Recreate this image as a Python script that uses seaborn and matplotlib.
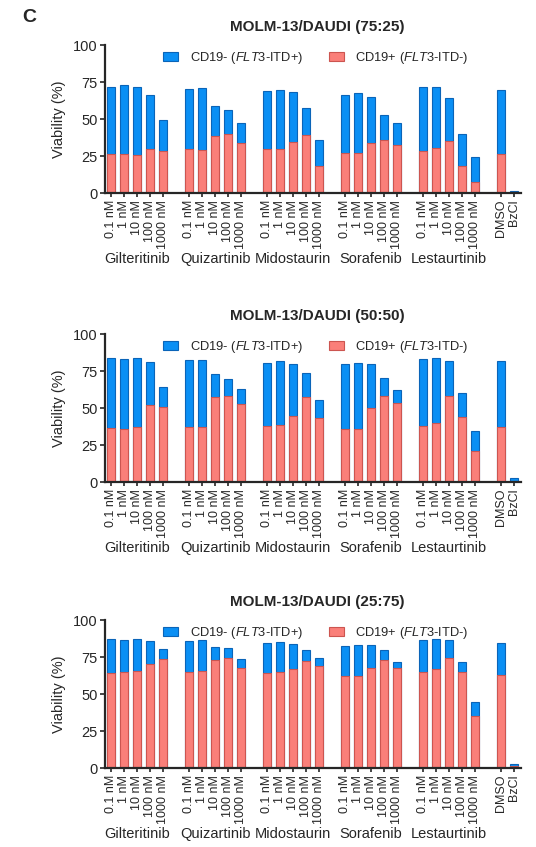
import numpy as np
import pandas as pd
import matplotlib
matplotlib.use("Agg")
import matplotlib.pyplot as plt
import seaborn as sns
from matplotlib.patches import Patch

sns.set_style("ticks")
plt.rcParams['font.family'] = ['Liberation Sans', 'DejaVu Sans']
plt.rcParams['mathtext.fontset'] = 'custom'
plt.rcParams['mathtext.it'] = 'Liberation Sans:italic'
plt.rcParams['mathtext.rm'] = 'Liberation Sans'

# ---------------- data ----------------
drugs = ["Gilteritinib", "Quizartinib", "Midostaurin", "Sorafenib", "Lestaurtinib"]
doses = ["0.1 nM", "1 nM", "10 nM", "100 nM", "1000 nM"]
controls = ["DMSO", "BzCl"]
titles = ["MOLM-13/DAUDI (75:25)", "MOLM-13/DAUDI (50:50)", "MOLM-13/DAUDI (25:75)"]

# total viability (top of blue bar) = CD19- + CD19+
total_75 = [71.9, 72.8, 71.9, 66.1, 49.2,
            70.6, 70.8, 58.7, 56.2, 47.4,
            68.8, 69.4, 68.1, 57.3, 35.5,
            66.3, 67.6, 64.7, 52.8, 47.0,
            71.7, 71.9, 64.0, 40.0, 24.3,
            69.9, 1.6]
cd19pos_75 = [26.1, 26.5, 25.6, 29.9, 28.3,
              29.4, 29.2, 38.7, 39.8, 33.5,
              29.4, 29.4, 34.4, 39.3, 18.2,
              26.7, 26.7, 33.7, 35.5, 32.1,
              28.3, 30.3, 34.8, 18.4, 7.4,
              26.3, 0.5]

total_50 = [83.6, 83.1, 83.6, 80.9, 64.0,
            82.2, 82.2, 73.0, 69.7, 62.9,
            80.4, 81.6, 79.8, 73.5, 55.1,
            79.8, 80.7, 79.8, 70.3, 62.2,
            83.1, 83.8, 82.0, 60.2, 34.6,
            81.8, 2.9]
cd19pos_50 = [36.2, 36.0, 36.9, 51.7, 51.0,
              37.1, 37.1, 57.3, 58.4, 52.8,
              38.0, 38.2, 44.9, 57.3, 43.4,
              35.7, 35.7, 49.9, 58.4, 53.5,
              38.0, 40.2, 58.4, 43.6, 20.9,
              37.1, 0.9]

total_25 = [86.9, 86.5, 87.1, 85.8, 80.4,
            85.8, 86.5, 81.7, 81.3, 73.4,
            84.4, 85.3, 83.7, 79.7, 74.3,
            82.4, 83.3, 83.1, 79.7, 71.6,
            86.5, 86.9, 86.7, 71.3, 44.7,
            84.4, 2.5]
cd19pos_25 = [63.9, 64.8, 65.5, 70.2, 73.6,
              64.8, 65.5, 72.9, 74.0, 67.9,
              64.3, 64.8, 67.0, 72.2, 68.8,
              62.1, 62.5, 67.5, 72.9, 67.5,
              65.0, 66.8, 74.3, 65.0, 35.2,
              62.8, 1.4]

panels = [(titles[0], total_75, cd19pos_75),
          (titles[1], total_50, cd19pos_50),
          (titles[2], total_25, cd19pos_25)]

# --------------- layout helpers ---------------
labels = [d for _ in drugs for d in doses] + controls
positions = []
for g in range(len(drugs)):
    for i in range(len(doses)):
        positions.append(g * (len(doses) + 1) + i)
start_ctrl = len(drugs) * (len(doses) + 1)
positions += [start_ctrl + k for k in range(len(controls))]

blue = "#0A8FF4"
blue_edge = "#0A64B8"
red = "#FA7F79"
red_edge = "#CC5550"

W, H = 536, 847
fig = plt.figure(figsize=(W / 100, H / 100), dpi=100)

ax_tops = [45, 334, 620]
ax_h = 148
left_px, right_px = 105, 521

for (title, total, pos), top in zip(panels, ax_tops):
    ax = fig.add_axes([left_px / W, 1 - (top + ax_h) / H,
                       (right_px - left_px) / W, ax_h / H])
    df = pd.DataFrame({"pos": positions, "label": labels,
                       "total": total, "cd19pos": pos})
    sns.barplot(data=df, x="pos", y="total", native_scale=True, width=0.62,
                color=blue, edgecolor=blue_edge, linewidth=0.8,
                saturation=1, errorbar=None, ax=ax)
    sns.barplot(data=df, x="pos", y="cd19pos", native_scale=True, width=0.62,
                color=red, edgecolor=red_edge, linewidth=0.8,
                saturation=1, errorbar=None, ax=ax)
    ax.set_xlim(-0.48, positions[-1] + 0.55)
    ax.set_ylim(0, 100)
    ax.set_yticks([0, 25, 50, 75, 100])
    ax.set_xticks(positions)
    ax.set_xticklabels(labels, rotation=90, fontsize=9)
    ax.tick_params(axis='y', labelsize=10.5, length=3.5, width=1.2, pad=2)
    ax.tick_params(axis='x', length=3, width=1.2, pad=2)
    ax.set_xlabel("")
    ax.set_ylabel("Viability (%)", fontsize=10.5, labelpad=5)
    for s in ["top", "right"]:
        ax.spines[s].set_visible(False)
    for s in ["left", "bottom"]:
        ax.spines[s].set_linewidth(1.6)
    ax.set_title(title, fontsize=11, fontweight="bold", pad=10, x=0.51)

    # drug group labels
    for g, drug in enumerate(drugs):
        cx = np.mean(positions[g * len(doses):(g + 1) * len(doses)])
        ax.annotate(drug, xy=(cx, 0), xycoords=('data', 'axes fraction'),
                    xytext=(0, -47.5), textcoords='offset points',
                    ha='center', va='center', fontsize=10.5)

    handles = [Patch(facecolor=blue, edgecolor=blue_edge, linewidth=0.8),
               Patch(facecolor=red, edgecolor=red_edge, linewidth=0.8)]
    ax.legend(handles, [r"CD19- ($\mathit{FLT3}$-ITD+)", r"CD19+ ($\mathit{FLT3}$-ITD-)"],
              loc='upper center', bbox_to_anchor=(0.507, 1.045), ncol=2,
              frameon=False, fontsize=9.3, handlelength=1.16, handleheight=0.62,
              handletextpad=0.9, columnspacing=2.0)

fig.text(22 / W, 1 - 18 / H, "C", fontsize=14, fontweight="bold",
         ha='left', va='center')

fig.savefig("out.png", dpi=100)
